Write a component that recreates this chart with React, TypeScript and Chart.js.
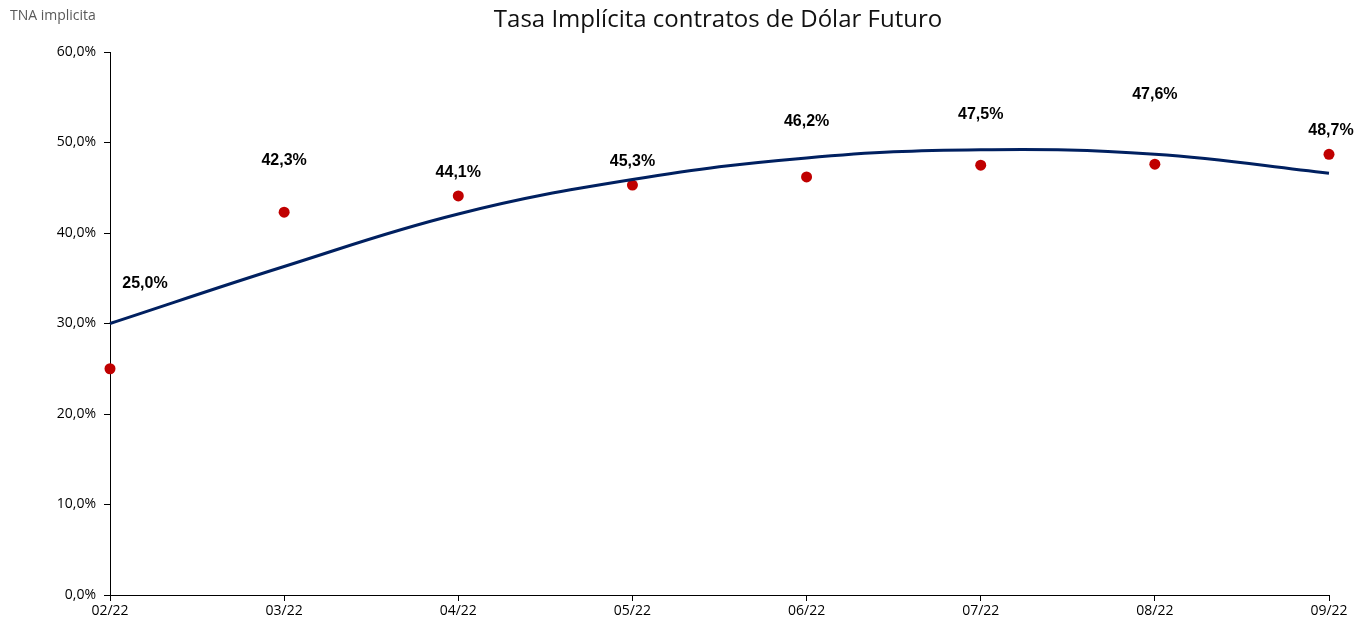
import React, { useEffect, useRef } from "react";
import { Chart, registerables } from "chart.js";

Chart.register(...registerables);

const categories = ["02/22", "03/22", "04/22", "05/22", "06/22", "07/22", "08/22", "09/22"];
const implicitRate = [25.0, 42.3, 44.1, 45.3, 46.2, 47.5, 47.6, 48.7];
const trendRate = [30.0, 36.3, 42.1, 45.9, 48.3, 49.2, 48.7, 46.6];
const yTickValues = [0, 10, 20, 30, 40, 50, 60];

const titleText = "Tasa Implícita contratos de Dólar Futuro";
const yAxisTitle = "TNA implicita";

// label placement (pixel offsets from each point)
const labelOffsets: [number, number][] = [
  [35, -85], [0, -52], [0, -23], [0, -23], [0, -55], [0, -51], [0, -70], [2, -24],
];

const fmtPct = (v: number) => v.toFixed(1).replace(".", ",") + "%";

const decorPlugin = {
  id: "decor",
  afterDatasetsDraw(chart: any) {
    const ctx = chart.ctx;
    const meta = chart.getDatasetMeta(1);
    ctx.save();
    ctx.fillStyle = "#000";
    ctx.font = "bold 16px 'Liberation Sans', Arial, sans-serif";
    ctx.textAlign = "center";
    ctx.textBaseline = "middle";
    meta.data.forEach((pt: any, i: number) => {
      const [dx, dy] = labelOffsets[i];
      ctx.fillText(fmtPct(implicitRate[i]), pt.x + dx, pt.y + dy);
    });
    ctx.restore();
  },
  afterDraw(chart: any) {
    const ctx = chart.ctx;
    ctx.save();
    ctx.fillStyle = "#111";
    ctx.font = "24px 'Open Sans', sans-serif";
    ctx.textAlign = "center";
    ctx.textBaseline = "middle";
    ctx.fillText(titleText, 718, 20);
    ctx.fillStyle = "#595959";
    ctx.font = "14px 'Open Sans', sans-serif";
    ctx.textAlign = "left";
    ctx.fillText(yAxisTitle, 10, 16);
    ctx.restore();
  },
};

export default function App() {
  const ref = useRef<HTMLCanvasElement | null>(null);
  useEffect(() => {
    if (!ref.current) return;
    const chart = new Chart(ref.current, {
      type: "line",
      data: {
        labels: categories,
        datasets: [
          {
            label: "Tendencia",
            data: trendRate,
            borderColor: "#002060",
            borderWidth: 3,
            pointRadius: 0,
            tension: 0.4,
            fill: false,
            clip: false as any,
          },
          {
            label: "TNA implícita",
            data: implicitRate,
            showLine: false,
            pointRadius: 5.5,
            pointBackgroundColor: "#C00000",
            pointBorderColor: "#C00000",
            pointBorderWidth: 0,
            clip: false as any,
          },
        ],
      },
      options: {
        responsive: false,
        animation: false,
        layout: { padding: { top: 52, right: 28, left: 0, bottom: 0 } },
        plugins: {
          legend: { display: false },
          title: { display: false },
          tooltip: { enabled: false },
        },
        scales: {
          x: {
            type: "category",
            offset: false,
            grid: {
              drawOnChartArea: false,
              drawTicks: true,
              tickLength: 6,
              color: "#000",
              offset: false,
            },
            border: { color: "#000", width: 1 },
            ticks: {
              color: "#000",
              font: { family: "'Open Sans', sans-serif", size: 14 },
              padding: 2,
              maxRotation: 0,
              autoSkip: false,
            },
            afterFit(scale: any) {
              scale.height = 29;
            },
          },
          y: {
            min: 0,
            max: 60,
            afterBuildTicks(scale: any) {
              scale.ticks = yTickValues.map((v) => ({ value: v }));
            },
            grid: {
              drawOnChartArea: false,
              drawTicks: true,
              tickLength: 6,
              color: "#000",
            },
            border: { color: "#000", width: 1 },
            ticks: {
              color: "#000",
              font: { family: "'Open Sans', sans-serif", size: 14 },
              padding: 8,
              callback: (v: any) => fmtPct(Number(v)),
            },
            afterFit(scale: any) {
              scale.width = 110;
            },
          },
        },
      },
      plugins: [decorPlugin],
    });
    return () => chart.destroy();
  }, []);
  return (
    <div style={{ position: "fixed", left: 0, top: 0, width: 1357, height: 624, background: "#fff" }}>
      <canvas ref={ref} width={1357} height={624} style={{ width: 1357, height: 624 }} />
    </div>
  );
}
